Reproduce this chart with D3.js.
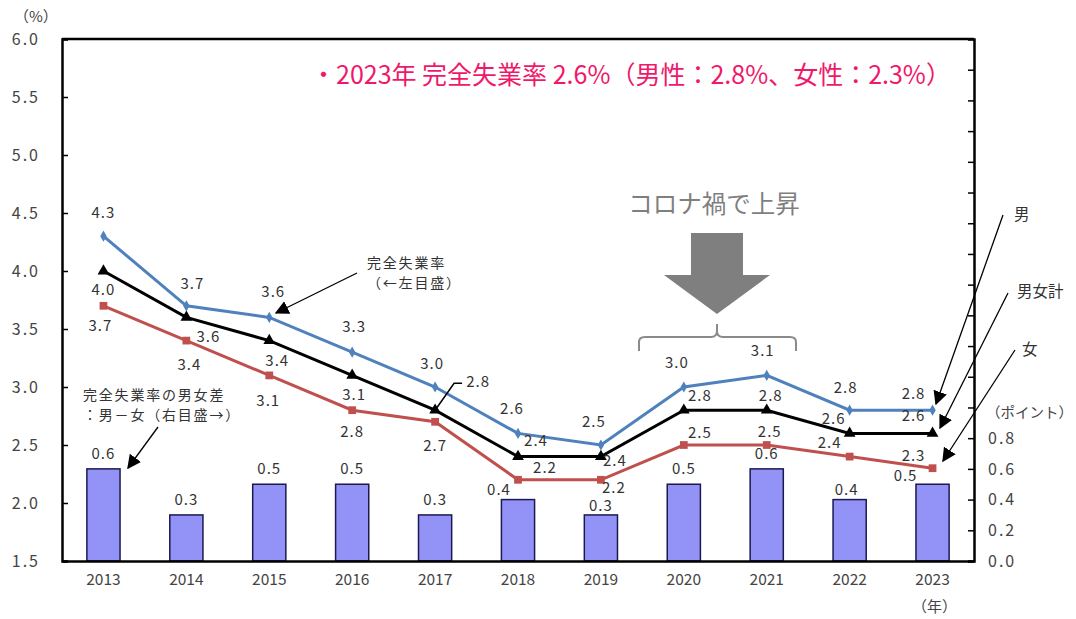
<!DOCTYPE html>
<html>
<head>
<meta charset="utf-8">
<script src="https://cdn.jsdelivr.net/npm/d3@7"></script>
<style>
  body { margin: 0; background: #fff; }
  svg text { font-family: "Noto Sans CJK JP", "Noto Sans", sans-serif; }
</style>
</head>
<body>
<div class="canvas"></div>
<script>
// data
const years = ['2013', '2014', '2015', '2016', '2017', '2018', '2019', '2020', '2021', '2022', '2023'];
const male = [4.3, 3.7, 3.6, 3.3, 3.0, 2.6, 2.5, 3.0, 3.1, 2.8, 2.8];
const total = [4.0, 3.6, 3.4, 3.1, 2.8, 2.4, 2.4, 2.8, 2.8, 2.6, 2.6];
const female = [3.7, 3.4, 3.1, 2.8, 2.7, 2.2, 2.2, 2.5, 2.5, 2.4, 2.3];
const gap = [0.6, 0.3, 0.5, 0.5, 0.3, 0.4, 0.3, 0.5, 0.6, 0.4, 0.5];
const leftTicks = [1.5, 2.0, 2.5, 3.0, 3.5, 4.0, 4.5, 5.0, 5.5, 6.0];
const rightTickLabels = [0.0, 0.2, 0.4, 0.6, 0.8];

// label nudges (px) so the numbers sit like the original
const maleOff = [[0,-22],[6,-21],[4,-24],[2,-24],[-3,-22],[-6,-23],[-7,-22],[-7,-23],[-4,-23],[-4,-21],[-19,-15]];
const totalOff = [[0,20],[22,21],[8,21],[2,21],[43,-27],[18,-15],[14,5],[16,-13],[4,-13],[-16,-13],[-19,-16]];
const femaleOff = [[-3,21],[3,25],[-1,27],[0,23],[0,25],[27,-11],[13,9],[16,-11],[3,-12],[-20,-13],[-19,-11]];
const gapOff = [[0,-14],[0,-14],[0,-14],[0,-14],[0,-14],[-19,-9],[0,-8],[0,-14],[0,-14],[-3,-9],[-27,-7]];

const W = 1076, H = 619;
const margin = { top: 39, right: 102, bottom: 58, left: 62 };
const plotW = W - margin.left - margin.right;
const plotH = H - margin.top - margin.bottom;

const svg = d3.select('.canvas')
  .append('svg')
  .attr('width', W)
  .attr('height', H);

const defs = svg.append('defs');
defs.append('marker')
  .attr('id', 'arrow')
  .attr('viewBox', '0 0 10 10')
  .attr('refX', 9).attr('refY', 5)
  .attr('markerWidth', 14).attr('markerHeight', 14)
  .attr('markerUnits', 'userSpaceOnUse')
  .attr('orient', 'auto')
  .append('path')
  .attr('d', 'M0,0 L10,5 L0,10 Z')
  .attr('fill', '#000');

const graph = svg.append('g')
  .attr('transform', `translate(${margin.left}, ${margin.top})`);

// scales
const x = d3.scaleBand().domain(years).range([0, plotW]).padding(0);
const yL = d3.scaleLinear().domain([1.5, 6.0]).range([plotH, 0]);
const yR = d3.scaleLinear().domain([0, 3.4]).range([plotH, 0]);
const cx = d => x(d) + x.bandwidth() / 2;
const barW = x.bandwidth() * 0.4;

// bars (right scale)
graph.selectAll('rect.gap')
  .data(gap)
  .enter().append('rect')
  .attr('class', 'gap')
  .attr('x', (d, i) => cx(years[i]) - barW / 2)
  .attr('y', d => yR(d))
  .attr('width', barW)
  .attr('height', d => plotH - yR(d))
  .attr('fill', '#9393f7')
  .attr('stroke', '#1a1a50')
  .attr('stroke-width', 1.5);

graph.selectAll('text.gapLabel')
  .data(gap)
  .enter().append('text')
  .attr('class', 'gapLabel')
  .attr('x', (d, i) => cx(years[i]) + gapOff[i][0])
  .attr('y', (d, i) => yR(d) + gapOff[i][1])
  .attr('text-anchor', 'middle')
  .attr('dominant-baseline', 'middle')
  .attr('font-size', 15)
  .attr('letter-spacing', 1)
  .attr('fill', '#333')
  .text(d => d.toFixed(1));

// lines
const series = [
  { vals: male, color: '#4f81bd', marker: 'diamond', off: maleOff },
  { vals: female, color: '#c0504d', marker: 'square', off: femaleOff },
  { vals: total, color: '#000', marker: 'triangle', off: totalOff },
];

const line = d3.line()
  .x((d, i) => cx(years[i]))
  .y(d => yL(d));

series.forEach(s => {
  graph.append('path')
    .datum(s.vals)
    .attr('d', line)
    .attr('fill', 'none')
    .attr('stroke', s.color)
    .attr('stroke-width', 3);

  const sym = s.marker === 'diamond' ? d3.symbolDiamond
    : s.marker === 'square' ? d3.symbolSquare : d3.symbolTriangle;
  const size = s.marker === 'diamond' ? 36 : 60;

  graph.selectAll(null)
    .data(s.vals)
    .enter().append('path')
    .attr('d', d3.symbol().type(sym).size(size))
    .attr('transform', (d, i) => `translate(${cx(years[i])}, ${yL(d)})`)
    .attr('fill', s.color);

  graph.selectAll(null)
    .data(s.vals)
    .enter().append('text')
    .attr('x', (d, i) => cx(years[i]) + s.off[i][0])
    .attr('y', (d, i) => yL(d) + s.off[i][1])
    .attr('text-anchor', 'middle')
    .attr('dominant-baseline', 'middle')
    .attr('font-size', 15)
    .attr('letter-spacing', 1)
    .attr('fill', '#333')
    .text(d => d.toFixed(1));
});

// leader for 2017 total label
{
  const px = cx('2017'), py = yL(total[4]);
  graph.append('polyline')
    .attr('points', `${px},${py} ${px + 19},${py - 27} ${px + 27},${py - 27}`)
    .attr('fill', 'none')
    .attr('stroke', '#000')
    .attr('stroke-width', 1.5);
}

// axes
const yAxisL = d3.axisLeft(yL)
  .tickValues(leftTicks)
  .tickSize(-6)
  .tickPadding(22)
  .tickFormat(d3.format('.1f'));
const gL = graph.append('g').call(yAxisL);

const rightTicks = d3.range(0, 17).map(i => +(i * 0.2).toFixed(1));
const yAxisR = d3.axisRight(yR)
  .tickValues(rightTicks)
  .tickSize(-6)
  .tickPadding(14)
  .tickFormat(d => rightTickLabels.includes(d) ? d3.format('.1f')(d) : '');
const gR = graph.append('g')
  .attr('transform', `translate(${plotW}, 0)`)
  .call(yAxisR);

const xAxis = d3.axisBottom(x).tickSize(0).tickPadding(13);
const gX = graph.append('g')
  .attr('transform', `translate(0, ${plotH})`)
  .call(xAxis);

[gL, gR, gX].forEach(g => {
  g.select('.domain').attr('stroke', '#000').attr('stroke-width', 2.5);
  g.selectAll('.tick line').attr('stroke', '#000').attr('stroke-width', 1.5);
  g.selectAll('text')
    .attr('font-size', 16)
    .attr('fill', '#444')
    .attr('font-family', '"Noto Sans CJK JP", sans-serif');
});
gL.selectAll('text').attr('letter-spacing', 2);
gR.selectAll('text').attr('letter-spacing', 2);
gX.selectAll('text').attr('font-size', 15.5);

// top frame
graph.append('line')
  .attr('x1', 0).attr('x2', plotW)
  .attr('y1', 0).attr('y2', 0)
  .attr('stroke', '#000').attr('stroke-width', 2.5);

// unit labels
svg.append('text').attr('x', 14).attr('y', 22).attr('font-size', 15).attr('fill', '#444').text('（%）');
svg.append('text').attr('x', 986).attr('y', 418).attr('font-size', 14.5).attr('fill', '#444').text('（ポイント）');
svg.append('text').attr('x', 912).attr('y', 612).attr('font-size', 15).attr('fill', '#444').text('（年）');

// headline
svg.append('text')
  .attr('x', 311).attr('y', 84)
  .attr('font-size', 25)
  .attr('fill', '#f0186a')
  .text('・2023年 完全失業率 2.6%（男性：2.8%、女性：2.3%）');

// covid callout
const ax = margin.left + cx('2020') + x.bandwidth() * 0.4;
svg.append('text')
  .attr('x', ax - 3).attr('y', 213)
  .attr('text-anchor', 'middle')
  .attr('font-size', 24.5)
  .attr('fill', '#7f7f7f')
  .text('コロナ禍で上昇');

svg.append('path')
  .attr('d', `M${ax - 26},233 L${ax + 26},233 L${ax + 26},275 L${ax + 53},275 L${ax},314 L${ax - 53},275 L${ax - 26},275 Z`)
  .attr('fill', '#7f7f7f');

svg.append('path')
  .attr('d', `M${ax - 78},351 L${ax - 78},342 Q${ax - 78},337 ${ax - 72},337 L${ax - 6},337 Q${ax},337 ${ax},331 L${ax},324 L${ax},331 Q${ax},337 ${ax + 6},337 L${ax + 73},337 Q${ax + 79},337 ${ax + 79},342 L${ax + 79},351`)
  .attr('fill', 'none')
  .attr('stroke', '#8a8a8a')
  .attr('stroke-width', 2);

// annotations
const note = (lines, x0, y0) => {
  lines.forEach((t, i) => {
    svg.append('text')
      .attr('x', x0).attr('y', y0 + i * 20)
      .attr('font-size', 14)
      .attr('letter-spacing', 1.8)
      .attr('fill', '#333')
      .text(t);
  });
};
const arrow = (x1, y1, x2, y2) => {
  svg.append('line')
    .attr('x1', x1).attr('y1', y1).attr('x2', x2).attr('y2', y2)
    .attr('stroke', '#000').attr('stroke-width', 1.3)
    .attr('marker-end', 'url(#arrow)');
};

note(['完全失業率の男女差', '：男－女（右目盛→）'], 83, 400);
arrow(158, 427, 128, 468);

note(['完全失業率', '（←左目盛）'], 367, 268);
arrow(357, 273, 276, 313);

svg.append('text').attr('x', 1014).attr('y', 220).attr('font-size', 15.5).attr('fill', '#333').text('男');
svg.append('text').attr('x', 1017).attr('y', 297).attr('font-size', 15.5).attr('fill', '#333').text('男女計');
svg.append('text').attr('x', 1022).attr('y', 355).attr('font-size', 15.5).attr('fill', '#333').text('女');
arrow(1003, 215, 936, 404);
arrow(1008, 293, 940, 428);
arrow(1015, 350, 943, 461);
</script>
</body>
</html>
